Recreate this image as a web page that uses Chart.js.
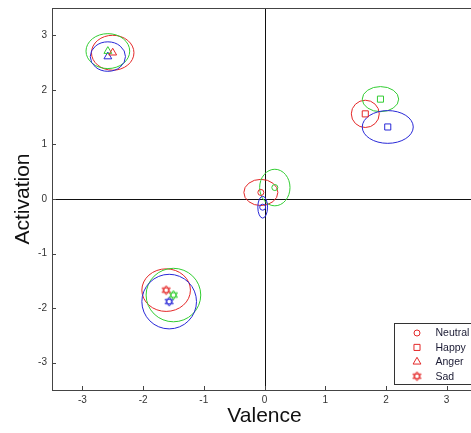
<!DOCTYPE html>
<html>
<head>
<meta charset="utf-8">
<script src="https://cdn.jsdelivr.net/npm/chart.js@4.4.1/dist/chart.umd.min.js"></script>
<style>
    html, body { margin: 0; padding: 0; background: #fff; overflow: hidden; }
    #wrap { width: 477px; height: 433px; position: relative; }
    canvas { display: block; }
</style>
</head>
<body>
<div id="wrap"><canvas id="chart" width="477" height="433"></canvas></div>
<script>
const emotions = ['Neutral', 'Happy', 'Anger', 'Sad'];
const seriesColors = ['rgb(228,40,40)', 'rgb(50,205,50)', 'rgb(40,40,215)'];
const xTicks = [-3, -2, -1, 0, 1, 2, 3];
const yTicks = [-3, -2, -1, 0, 1, 2, 3];

// centre of each emotion, one value per series (red, green, blue)
const neutralX = [-0.06, 0.17, -0.03];
const neutralY = [0.12, 0.21, -0.15];
const happyX = [1.66, 1.91, 2.03];
const happyY = [1.56, 1.83, 1.32];
const angerX = [-2.50, -2.58, -2.58];
const angerY = [2.68, 2.71, 2.61];
const sadX = [-1.62, -1.50, -1.57];
const sadY = [-1.67, -1.76, -1.88];

// ellipse half-width / half-height around each centre
const neutralRx = [0.28, 0.25, 0.08];
const neutralRy = [0.24, 0.335, 0.20];
const happyRx = [0.23, 0.30, 0.42];
const happyRy = [0.25, 0.23, 0.30];
const angerRx = [0.35, 0.36, 0.29];
const angerRy = [0.32, 0.32, 0.27];
const sadRx = [0.40, 0.45, 0.45];
const sadRy = [0.39, 0.49, 0.50];

const FONT = "'Liberation Sans', Arial, sans-serif";

function hexagram(color) {
    const c = document.createElement('canvas');
    c.width = 11;
    c.height = 11;
    const ctx = c.getContext('2d');
    ctx.strokeStyle = color;
    ctx.lineWidth = 1;
    [-90, 90].forEach(start => {
        ctx.beginPath();
        for (let i = 0; i < 3; i++) {
            const a = (start + i * 120) * Math.PI / 180;
            const px = 5.5 + 4.6 * Math.cos(a);
            const py = 5.5 + 4.6 * Math.sin(a);
            if (i === 0) ctx.moveTo(px, py); else ctx.lineTo(px, py);
        }
        ctx.closePath();
        ctx.stroke();
    });
    return c;
}

const groups = [
    { xs: neutralX, ys: neutralY, rx: neutralRx, ry: neutralRy, style: () => 'circle', radius: 3 },
    { xs: happyX, ys: happyY, rx: happyRx, ry: happyRy, style: () => 'rect', radius: 4.3 },
    { xs: angerX, ys: angerY, rx: angerRx, ry: angerRy, style: () => 'triangle', radius: 4.5 },
    { xs: sadX, ys: sadY, rx: sadRx, ry: sadRy, style: color => hexagram(color), radius: 5 }
];

const datasets = [];
groups.forEach((g, gi) => {
    seriesColors.forEach((color, si) => {
        datasets.push({
            label: emotions[gi],
            data: [{ x: g.xs[si], y: g.ys[si] }],
            radii: [g.rx[si], g.ry[si]],
            pointStyle: g.style(color),
            pointRadius: g.radius,
            pointBorderWidth: 1,
            borderColor: color,
            backgroundColor: 'rgba(0,0,0,0)',
            showLine: false
        });
    });
});

const framePlugin = {
    id: 'frame',
    beforeDatasetsDraw(chart) {
        const { ctx, chartArea: a, scales: { x, y } } = chart;
        const x0 = Math.round(x.getPixelForValue(0)) + 0.5;
        const y0 = Math.round(y.getPixelForValue(0)) + 0.5;
        ctx.save();
        ctx.strokeStyle = '#111';
        ctx.lineWidth = 1;
        ctx.beginPath();
        ctx.moveTo(x0, a.top);
        ctx.lineTo(x0, a.bottom);
        ctx.moveTo(a.left, y0);
        ctx.lineTo(a.right, y0);
        ctx.stroke();

        // ellipses around each centre
        ctx.beginPath();
        ctx.rect(a.left, a.top, a.right - a.left, a.bottom - a.top);
        ctx.clip();
        chart.data.datasets.forEach(ds => {
            const p = ds.data[0];
            const cx = x.getPixelForValue(p.x);
            const cy = y.getPixelForValue(p.y);
            const rx = Math.abs(x.getPixelForValue(p.x + ds.radii[0]) - cx);
            const ry = Math.abs(y.getPixelForValue(p.y + ds.radii[1]) - cy);
            ctx.strokeStyle = ds.borderColor;
            ctx.beginPath();
            ctx.ellipse(cx, cy, rx, ry, 0, 0, Math.PI * 2);
            ctx.stroke();
        });
        ctx.restore();
    },
    afterDraw(chart) {
        const { ctx, chartArea: a, scales: { x, y } } = chart;
        ctx.save();
        ctx.strokeStyle = '#444';
        ctx.lineWidth = 1;
        ctx.beginPath();
        ctx.moveTo(a.left, Math.round(a.top) + 0.5);
        ctx.lineTo(a.right, Math.round(a.top) + 0.5);
        // inward tick marks
        xTicks.forEach(v => {
            const px = Math.round(x.getPixelForValue(v)) + 0.5;
            ctx.moveTo(px, a.bottom);
            ctx.lineTo(px, a.bottom - 4);
        });
        yTicks.forEach(v => {
            const py = Math.round(y.getPixelForValue(v)) + 0.5;
            ctx.moveTo(a.left, py);
            ctx.lineTo(a.left + 4, py);
        });
        ctx.stroke();

        // legend box
        const boxLeft = 394.5;
        const boxTop = a.bottom - 66.5;
        const boxBottom = a.bottom - 5.5;
        ctx.fillStyle = '#fff';
        ctx.fillRect(boxLeft, boxTop, a.right - boxLeft, boxBottom - boxTop);
        ctx.strokeStyle = '#333';
        ctx.strokeRect(boxLeft, boxTop, a.right + 5 - boxLeft, boxBottom - boxTop);

        ctx.font = '10.5px ' + FONT;
        ctx.textBaseline = 'middle';
        ctx.textAlign = 'left';
        emotions.forEach((name, i) => {
            const ds = chart.data.datasets[i * seriesColors.length];
            const ly = boxTop + 9.5 + i * 14.4;
            ctx.strokeStyle = ds.borderColor;
            ctx.fillStyle = 'rgba(0,0,0,0)';
            ctx.lineWidth = 1;
            Chart.helpers.drawPoint(ctx, {
                pointStyle: ds.pointStyle,
                radius: ds.pointRadius,
                borderWidth: 1,
                rotation: 0
            }, boxLeft + 22.5, ly);
            ctx.fillStyle = '#1a1a33';
            ctx.fillText(name, boxLeft + 41, ly + 0.5);
        });
        ctx.restore();
    }
};

new Chart(document.getElementById('chart'), {
    type: 'scatter',
    data: { datasets },
    options: {
        responsive: false,
        animation: false,
        layout: { autoPadding: false, padding: { top: 8, left: 0, right: 0, bottom: 0 } },
        plugins: { legend: { display: false }, tooltip: { enabled: false } },
        scales: {
            x: {
                type: 'linear',
                min: -3.5,
                max: 3.5,
                afterBuildTicks: scale => { scale.ticks = xTicks.map(v => ({ value: v })); },
                afterFit: scale => {
                    scale.height = 43;
                    scale.paddingLeft = 0;
                    scale.paddingRight = 0;
                },
                grid: { display: false, drawTicks: false },
                border: { display: true, color: '#444', width: 1 },
                ticks: { color: '#333', padding: 4, font: { family: FONT, size: 10 } },
                title: {
                    display: true,
                    text: 'Valence',
                    color: '#111',
                    font: { family: FONT, size: 21 },
                    padding: { top: 0, bottom: 4 }
                }
            },
            y: {
                type: 'linear',
                min: -3.5,
                max: 3.5,
                afterBuildTicks: scale => { scale.ticks = yTicks.map(v => ({ value: v })); },
                afterFit: scale => {
                    scale.width = 52;
                    scale.paddingTop = 0;
                    scale.paddingBottom = 0;
                },
                grid: { display: false, drawTicks: false },
                border: { display: true, color: '#444', width: 1 },
                ticks: { color: '#333', padding: 5, font: { family: FONT, size: 10 } },
                title: {
                    display: true,
                    text: 'Activation',
                    color: '#111',
                    font: { family: FONT, size: 21 },
                    padding: { top: 11, bottom: 0 }
                }
            }
        }
    },
    plugins: [framePlugin]
});
</script>
</body>
</html>
